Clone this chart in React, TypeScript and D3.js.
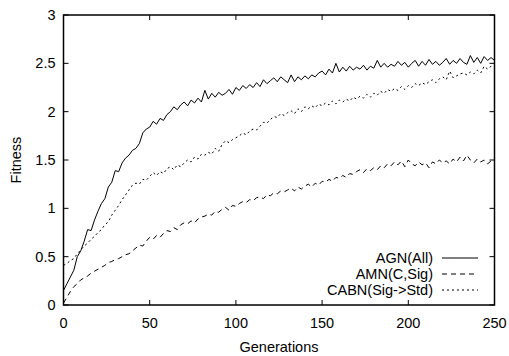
import React from "react";
import * as d3 from "d3";

const STEP = 2; // generation spacing of the sampled values
const agn = [
  0.15, 0.22, 0.29, 0.36, 0.5, 0.56, 0.66, 0.78, 0.77, 0.88, 0.97, 1.05, 1.1, 1.22, 1.27, 1.39, 1.38, 1.47, 1.52, 1.55,
  1.6, 1.62, 1.67, 1.78, 1.82, 1.84, 1.9, 1.87, 1.93, 1.91, 1.97, 2.0, 2.05, 2.02, 2.07, 2.1, 2.06, 2.12, 2.09, 2.14,
  2.1, 2.22, 2.13, 2.19, 2.15, 2.2, 2.17, 2.19, 2.23, 2.18, 2.25, 2.22, 2.27, 2.24, 2.28, 2.25, 2.3, 2.26, 2.33, 2.29,
  2.32, 2.35, 2.31, 2.36, 2.33, 2.3, 2.38, 2.31, 2.36, 2.33, 2.37, 2.34, 2.38, 2.36, 2.4, 2.42, 2.38, 2.44, 2.4, 2.5,
  2.41, 2.46, 2.42, 2.47, 2.43, 2.46, 2.44, 2.48, 2.43, 2.47, 2.45, 2.53, 2.46, 2.5, 2.46, 2.49, 2.47, 2.52, 2.48, 2.51,
  2.46, 2.5, 2.53, 2.47, 2.52, 2.48, 2.54, 2.49, 2.52, 2.48, 2.51, 2.55, 2.49, 2.53, 2.5, 2.55, 2.51, 2.49, 2.58, 2.51,
  2.56, 2.5, 2.57, 2.53, 2.56, 2.53,
];
const amn = [
  0.02, 0.08, 0.14, 0.19, 0.22, 0.26, 0.28, 0.3, 0.33, 0.35, 0.37, 0.39, 0.41, 0.44, 0.45, 0.47, 0.48, 0.5, 0.52, 0.53,
  0.56, 0.59, 0.62, 0.61, 0.66, 0.7, 0.68, 0.72, 0.7, 0.74, 0.77, 0.76, 0.8, 0.78, 0.83, 0.85, 0.84, 0.87, 0.85, 0.89,
  0.91, 0.92, 0.94, 0.93, 0.97, 0.96, 0.99, 1.01, 0.98, 1.03, 1.02, 1.05, 1.07, 1.06, 1.09, 1.08, 1.11, 1.12, 1.1, 1.14,
  1.13, 1.16, 1.15, 1.18, 1.17, 1.19, 1.21, 1.18, 1.22, 1.2, 1.23, 1.25, 1.22, 1.26, 1.24, 1.28, 1.27, 1.3, 1.28, 1.32,
  1.31, 1.34, 1.32, 1.36, 1.35, 1.38, 1.4, 1.37, 1.41, 1.39, 1.42, 1.4, 1.44, 1.42, 1.46, 1.44, 1.48, 1.45, 1.49, 1.43,
  1.5, 1.46, 1.44, 1.48, 1.45, 1.47, 1.42, 1.48, 1.46, 1.5, 1.47, 1.49, 1.46, 1.51, 1.48, 1.53, 1.49, 1.55, 1.5, 1.47,
  1.51, 1.48, 1.5, 1.46, 1.49, 1.48,
];
const cabn = [
  0.41, 0.43, 0.46, 0.48, 0.53, 0.57, 0.61, 0.64, 0.68, 0.71, 0.75, 0.78, 0.83, 0.86, 0.93, 0.98, 1.03, 1.09, 1.14, 1.19,
  1.24, 1.26, 1.25, 1.3, 1.29, 1.33, 1.37, 1.34, 1.38, 1.36, 1.41, 1.43, 1.4, 1.45, 1.43, 1.47, 1.5, 1.48, 1.53, 1.51,
  1.56, 1.55, 1.58, 1.56, 1.62, 1.59, 1.66, 1.7, 1.68, 1.71, 1.73, 1.75, 1.78, 1.76, 1.8, 1.82, 1.81, 1.85, 1.89, 1.88,
  1.92, 1.95, 1.94, 1.98, 1.96, 1.99, 2.01, 1.98, 2.03, 2.0, 2.05, 2.03, 2.06, 2.04, 2.08, 2.06, 2.09, 2.07, 2.11, 2.08,
  2.12, 2.1, 2.13, 2.11, 2.15, 2.13, 2.16, 2.14, 2.18, 2.15, 2.19, 2.17, 2.21, 2.19, 2.23, 2.21, 2.24, 2.22, 2.26, 2.23,
  2.27, 2.25, 2.29, 2.27, 2.3, 2.28, 2.31, 2.33, 2.3, 2.34, 2.36, 2.33, 2.42, 2.35, 2.37, 2.39, 2.4, 2.38, 2.41, 2.39,
  2.43, 2.4, 2.47, 2.44, 2.47, 2.48,
];
const xTicks = [0, 50, 100, 150, 200, 250];
const yTicks = [0, 0.5, 1, 1.5, 2, 2.5, 3];
const seriesNames = ["AGN(All)", "AMN(C,Sig)", "CABN(Sig->Std)"];
const seriesDash = ["none", "5,4", "2,3"];

export default function App() {
  const W = 509, H = 356;
  const left = 63.5, right = 494.5, top = 15, bottom = 305;
  const x = d3.scaleLinear().domain([0, 250]).range([left, right]);
  const y = d3.scaleLinear().domain([0, 3]).range([bottom, top]);
  const series = [agn, amn, cabn];
  const line = d3
    .line<number>()
    .x((_, i) => x(i * STEP))
    .y((d) => y(d));
  const font = "'Liberation Sans', Arial, Helvetica, sans-serif";
  const fs = 14.5;
  const tl = 5;
  const legendY = [258, 274, 290];
  return (
    <svg width={W} height={H} style={{ position: "absolute", left: 0, top: 0, background: "#fff" }} fontFamily={font}>
      <rect x={0} y={0} width={W} height={H} fill="#fff" />
      {yTicks.map((t) => (
        <g key={"y" + t}>
          <line x1={left} x2={left + tl} y1={y(t)} y2={y(t)} stroke="#000" strokeWidth={1} />
          <line x1={right} x2={right - tl} y1={y(t)} y2={y(t)} stroke="#000" strokeWidth={1} />
          <text x={left - 8} y={y(t)} dy="0.35em" textAnchor="end" fontSize={fs} fill="#000">
            {t}
          </text>
        </g>
      ))}
      {xTicks.map((t) => (
        <g key={"x" + t}>
          <line x1={x(t)} x2={x(t)} y1={bottom} y2={bottom - tl} stroke="#000" strokeWidth={1} />
          <line x1={x(t)} x2={x(t)} y1={top} y2={top + tl} stroke="#000" strokeWidth={1} />
          <text x={x(t)} y={328} textAnchor="middle" fontSize={fs} fill="#000">
            {t}
          </text>
        </g>
      ))}
      {series.map((s, i) => (
        <path key={i} d={line(s) || ""} fill="none" stroke="#000" strokeWidth={1} strokeDasharray={seriesDash[i]} />
      ))}
      {seriesNames.map((n, i) => (
        <g key={n}>
          <text x={433} y={legendY[i]} dy="0.35em" textAnchor="end" fontSize={fs} fill="#000">
            {n}
          </text>
          <line x1={442} x2={478} y1={legendY[i]} y2={legendY[i]} stroke="#000" strokeWidth={1} strokeDasharray={seriesDash[i]} />
        </g>
      ))}
      <rect x={left} y={top} width={right - left} height={bottom - top} fill="none" stroke="#000" strokeWidth={1.5} />
      <text x={(left + right) / 2} y={352} textAnchor="middle" fontSize={fs} fill="#000">
        Generations
      </text>
      <text transform={`translate(21,${(top + bottom) / 2}) rotate(-90)`} textAnchor="middle" fontSize={fs} fill="#000">
        Fitness
      </text>
    </svg>
  );
}
